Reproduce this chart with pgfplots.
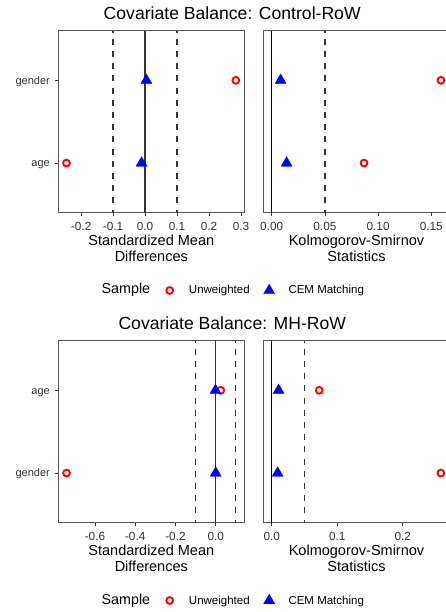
\documentclass[border=0pt]{standalone}
\usepackage{fontspec}
\setmainfont{Liberation Sans}
\usepackage{pgfplots}
\pgfplotsset{compat=1.18}
\definecolor{fr}{HTML}{555555}
\definecolor{tk}{HTML}{333333}
\definecolor{dl}{HTML}{333333}
\definecolor{ptred}{HTML}{FF0000}
\definecolor{ptblue}{HTML}{0000FF}
\pgfplotsset{
  panel/.style={
    scale only axis, width=186pt, height=182pt, anchor=south west,
    ymin=0.4, ymax=2.6,
    axis line style={fr, line width=0.9pt},
    tick align=outside, xtick pos=bottom, ytick pos=left,
    major tick length=3.7pt,
    tick style={tk, line width=0.8pt},
    /pgf/number format/assume math mode=true,
    xticklabel style={font=\fontsize{11.8}{14}\selectfont, text=tk, anchor=base, inner sep=0pt, yshift=-13.7pt},
    yticklabel style={font=\fontsize{11}{13}\selectfont, text=tk, anchor=base east, inner sep=0pt, xshift=-4.6pt, yshift=-3.8pt},
    legend columns=-1,
    legend style={draw=none, fill=none, inner sep=0pt, outer sep=0pt, column sep=0pt,
      nodes={inner sep=0pt, outer sep=0pt}, cells={anchor=base west},
      font=\fontsize{11.5}{13}\selectfont},
  },
  unw/.style={only marks, mark=o, mark size=3.4pt,
    mark options={draw=ptred, line width=1.9pt, solid},
    legend image code/.code={\path[draw=none,fill=none] (-19.5pt,-5pt) rectangle (19.3pt,12pt);
      \draw[##1] plot coordinates {(0pt,3.5pt)};}},
  cem/.style={only marks, mark=triangle*, mark size=6.5pt,
    mark options={fill=ptblue, draw=ptblue, line width=0.2pt, solid},
    legend image code/.code={\path[draw=none,fill=none] (-19.5pt,-5pt) rectangle (19.3pt,12pt);
      \draw[##1] plot coordinates {(0pt,3.5pt)};}},
  dline/.style={dl, line width=1.3pt, dash pattern=on 6pt off 6.2pt, dash phase=3pt, forget plot},
  zline/.style={line width=1.3pt, forget plot},
}
\newcommand{\tl}[1]{\textnormal{#1}}
\begin{document}
\begin{tikzpicture}
% ---------- Top group ----------
\node[anchor=base, font=\fontsize{17.6}{20}\selectfont] at (232.2pt,592.5pt) {Covariate Balance: Control-RoW};
\begin{axis}[panel, at={(58.3pt,399.3pt)},
  xmin=-0.2715, xmax=0.3105,
  xtick={-0.2,-0.1,0,0.1,0.2,0.3},
  xticklabels={\tl{-0.2},\tl{-0.1},\tl{0.0},\tl{0.1},\tl{0.2},\tl{0.3}},
  ytick={1,2}, yticklabels={\tl{age},\tl{gender}},
  legend style={at={(axis description cs:0.2333,-0.3808)}, anchor=north west}]
  \addlegendimage{empty legend}
  \addlegendentry[font=\fontsize{14.3}{16}\selectfont]{Sample}
  \addplot[dline] coordinates {(-0.1,0.4) (-0.1,2.6)};
  \addplot[dline] coordinates {(0.1,0.4) (0.1,2.6)};
  \addplot[zline, color=tk] coordinates {(0,0.4) (0,2.6)};
  \addplot[unw] coordinates {(0.284,2) (-0.246,1)};
  \addlegendentry{Unweighted}
  \addplot[cem] coordinates {(0.004,2) (-0.011,1)};
  \addlegendentry{CEM Matching}
\end{axis}
\begin{axis}[panel, at={(263.3pt,399.3pt)},
  xmin=-0.0079, xmax=0.1669,
  xtick={0,0.05,0.1,0.15},
  xticklabels={\tl{0.00},\tl{0.05},\tl{0.10},\tl{0.15}},
  ytick=\empty]
  \addplot[dline] coordinates {(0.05,0.4) (0.05,2.6)};
  \addplot[zline, color=black] coordinates {(0,0.4) (0,2.6)};
  \addplot[unw] coordinates {(0.159,2) (0.0868,1)};
  \addplot[cem] coordinates {(0.0084,2) (0.014,1)};
\end{axis}
\node[anchor=base, font=\fontsize{14.5}{16}\selectfont] at (151.3pt,366pt) {Standardized Mean};
\node[anchor=base, font=\fontsize{14.5}{16}\selectfont] at (151.3pt,350.3pt) {Differences};
\node[anchor=base, font=\fontsize{14.5}{16}\selectfont] at (356.5pt,366pt) {Kolmogorov-Smirnov};
\node[anchor=base, font=\fontsize{14.5}{16}\selectfont] at (356.5pt,350.3pt) {Statistics};
% ---------- Bottom group ----------
\node[anchor=base, font=\fontsize{17.6}{20}\selectfont] at (232.3pt,282.7pt) {Covariate Balance: MH-RoW};
\begin{axis}[panel, at={(58.3pt,89.3pt)},
  xmin=-0.782, xmax=0.142,
  xtick={-0.6,-0.4,-0.2,0},
  xticklabels={\tl{-0.6},\tl{-0.4},\tl{-0.2},\tl{0.0}},
  ytick={1,2}, yticklabels={\tl{gender},\tl{age}},
  legend style={at={(axis description cs:0.2333,-0.3808)}, anchor=north west}]
  \addlegendimage{empty legend}
  \addlegendentry[font=\fontsize{14.3}{16}\selectfont]{Sample}
  \addplot[dline] coordinates {(-0.1,0.4) (-0.1,2.6)};
  \addplot[dline] coordinates {(0.1,0.4) (0.1,2.6)};
  \addplot[zline, color=tk] coordinates {(0,0.4) (0,2.6)};
  \addplot[unw] coordinates {(0.025,2) (-0.741,1)};
  \addlegendentry{Unweighted}
  \addplot[cem] coordinates {(-0.001,2) (0.0,1)};
  \addlegendentry{CEM Matching}
\end{axis}
\begin{axis}[panel, at={(263.3pt,89.3pt)},
  xmin=-0.0129, xmax=0.2709,
  xtick={0,0.1,0.2},
  xticklabels={\tl{0.0},\tl{0.1},\tl{0.2}},
  ytick=\empty]
  \addplot[dline] coordinates {(0.05,0.4) (0.05,2.6)};
  \addplot[zline, color=black] coordinates {(0,0.4) (0,2.6)};
  \addplot[unw] coordinates {(0.0725,2) (0.258,1)};
  \addplot[cem] coordinates {(0.0104,2) (0.0089,1)};
\end{axis}
\node[anchor=base, font=\fontsize{14.5}{16}\selectfont] at (151.3pt,56pt) {Standardized Mean};
\node[anchor=base, font=\fontsize{14.5}{16}\selectfont] at (151.3pt,40.3pt) {Differences};
\node[anchor=base, font=\fontsize{14.5}{16}\selectfont] at (356.5pt,56pt) {Kolmogorov-Smirnov};
\node[anchor=base, font=\fontsize{14.5}{16}\selectfont] at (356.5pt,40.3pt) {Statistics};
\pgfresetboundingbox
\path[use as bounding box] (0pt,0pt) rectangle (446pt,612pt);
\end{tikzpicture}
\end{document}
